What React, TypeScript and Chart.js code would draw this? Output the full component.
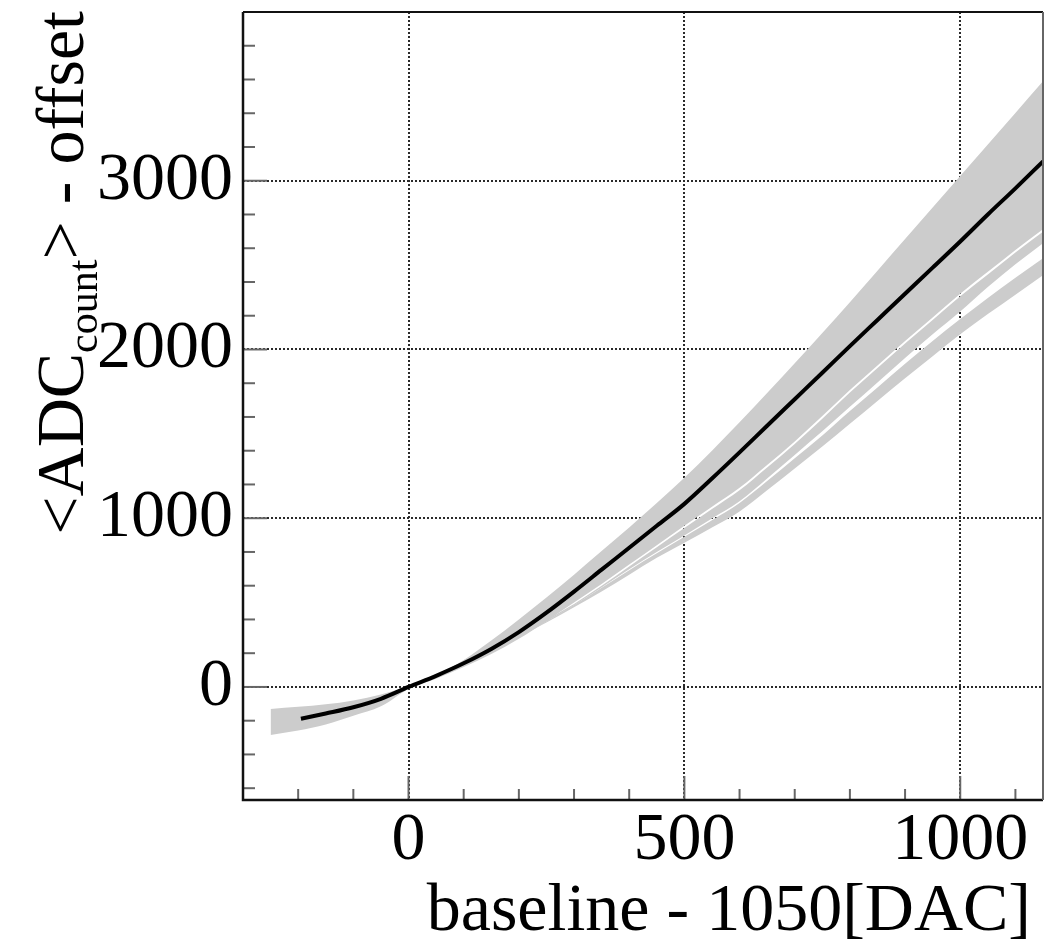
import React, { useEffect, useRef } from "react";
import { Chart, registerables } from "chart.js";

Chart.register(...registerables);

// ---- data ----
const meanX = [-195, -150, -100, -50, 0, 50, 100, 150, 200, 250, 300, 350, 400, 450, 500, 550, 600, 650, 700, 750, 800, 850, 900, 950, 1000, 1050, 1100, 1150];
const meanY = [-188, -157, -120, -70, 0, 66, 140, 225, 325, 440, 565, 695, 825, 955, 1085, 1235, 1390, 1548, 1705, 1862, 2020, 2175, 2330, 2485, 2640, 2800, 2955, 3115];

const bandX = [-250, -200, -150, -100, -50, 0, 50, 100, 150, 200, 250, 300, 350, 400, 450, 500, 550, 600, 650, 700, 750, 800, 850, 900, 950, 1000, 1050, 1100, 1150];
const bandUpper = [-130, -118, -103, -80, -45, 5, 70, 160, 275, 400, 530, 665, 805, 945, 1090, 1240, 1400, 1568, 1742, 1918, 2098, 2280, 2467, 2654, 2841, 3028, 3215, 3402, 3590];
const bandLower = [-285, -258, -222, -170, -115, -12, 48, 118, 195, 285, 390, 500, 610, 725, 840, 955, 1068, 1180, 1315, 1455, 1605, 1760, 1905, 2050, 2190, 2330, 2460, 2590, 2712];

const stripX = [200, 250, 300, 350, 400, 450, 500, 550, 600, 650, 700, 750, 800, 850, 900, 950, 1000, 1050, 1100, 1150];
const stripATop = [300, 398, 492, 600, 714, 828, 942, 1054, 1165, 1300, 1440, 1590, 1745, 1890, 2035, 2175, 2315, 2445, 2575, 2697];
const stripABottom = [298, 388, 484, 590, 698, 800, 898, 998, 1100, 1235, 1375, 1515, 1660, 1805, 1950, 2090, 2225, 2370, 2505, 2630];
const stripBTop = [298, 390, 486, 588, 692, 792, 890, 988, 1090, 1220, 1355, 1490, 1635, 1775, 1915, 2050, 2180, 2305, 2425, 2540];
const stripBBottom = [296, 382, 472, 565, 665, 765, 855, 945, 1040, 1165, 1295, 1425, 1560, 1695, 1830, 1960, 2090, 2210, 2325, 2440];

const xTickValues = [-200, -100, 0, 100, 200, 300, 400, 500, 600, 700, 800, 900, 1000, 1100];
const xMajorTicks = [0, 500, 1000];
const yTickValues = [-600, -400, -200, 0, 200, 400, 600, 800, 1000, 1200, 1400, 1600, 1800, 2000, 2200, 2400, 2600, 2800, 3000, 3200, 3400, 3600, 3800];
const yMajorTicks = [0, 1000, 2000, 3000];

const xTitle = "baseline - 1050[DAC]";
const yTitleStart = "<ADC";
const yTitleSub = "count";
const yTitleEnd = "> - offset";

const X_MIN = -300;
const X_MAX = 1150;
const Y_MIN = -670;
const Y_MAX = 4000;

const GRAY = "#cccccc";
const FONT = '"Liberation Serif", "Times New Roman", serif';
const TICK_FONT_SIZE = 68;
const TITLE_FONT_SIZE = 68;

const pts = (xs: number[], ys: number[]) => xs.map((x, i) => ({ x, y: ys[i] }));

const rootFramePlugin = {
  id: "rootFrame",
  afterDatasetsDraw(chart: any) {
    const { ctx, chartArea } = chart;
    const { left, top, right, bottom } = chartArea;
    const xs = chart.scales.x;
    const ys = chart.scales.y;
    ctx.save();
    // inward tick marks
    ctx.strokeStyle = "#666";
    ctx.lineWidth = 2;
    ctx.setLineDash([]);
    xTickValues.forEach((v) => {
      const px = xs.getPixelForValue(v);
      const len = xMajorTicks.includes(v) ? 24 : 11;
      ctx.beginPath();
      ctx.moveTo(px, bottom);
      ctx.lineTo(px, bottom - len);
      ctx.stroke();
    });
    yTickValues.forEach((v) => {
      const py = ys.getPixelForValue(v);
      const len = yMajorTicks.includes(v) ? 24 : 12;
      ctx.beginPath();
      ctx.moveTo(left, py);
      ctx.lineTo(left + len, py);
      ctx.stroke();
    });
    // frame
    ctx.strokeStyle = "#111";
    ctx.lineWidth = 2.5;
    ctx.beginPath();
    ctx.moveTo(left, top);
    ctx.lineTo(left, bottom);
    ctx.lineTo(right, bottom);
    ctx.stroke();
    ctx.lineWidth = 2;
    ctx.beginPath();
    ctx.moveTo(left, top);
    ctx.lineTo(right, top);
    ctx.stroke();
    ctx.strokeStyle = "#666";
    ctx.beginPath();
    ctx.moveTo(right, top);
    ctx.lineTo(right, bottom);
    ctx.stroke();

    // x title
    ctx.fillStyle = "#000";
    ctx.font = `${TITLE_FONT_SIZE}px ${FONT}`;
    ctx.textAlign = "right";
    ctx.textBaseline = "alphabetic";
    ctx.fillText(xTitle, right - 12, 930);

    // y title (rotated, with subscript)
    const subSize = Math.round(TITLE_FONT_SIZE * 0.62);
    ctx.font = `${TITLE_FONT_SIZE}px ${FONT}`;
    const w1 = ctx.measureText(yTitleStart).width;
    const w3 = ctx.measureText(yTitleEnd).width;
    ctx.font = `${subSize}px ${FONT}`;
    const w2 = ctx.measureText(yTitleSub).width;
    const total = w1 + w2 + w3;
    ctx.translate(83, top - 1);
    ctx.rotate(-Math.PI / 2);
    ctx.textAlign = "left";
    ctx.font = `${TITLE_FONT_SIZE}px ${FONT}`;
    ctx.fillText(yTitleStart, -total, 0);
    ctx.font = `${subSize}px ${FONT}`;
    ctx.fillText(yTitleSub, -total + w1, 14);
    ctx.font = `${TITLE_FONT_SIZE}px ${FONT}`;
    ctx.fillText(yTitleEnd, -total + w1 + w2, 0);
    ctx.restore();
  },
};

export default function App() {
  const canvasRef = useRef<HTMLCanvasElement | null>(null);

  useEffect(() => {
    const canvas = canvasRef.current;
    if (!canvas) return;
    const hidden = "rgba(0,0,0,0)";
    const bandStyle = {
      borderColor: hidden,
      borderWidth: 0,
      backgroundColor: GRAY,
      pointRadius: 0,
      cubicInterpolationMode: "monotone",
      order: 1,
    };
    const chart = new Chart(canvas, {
      type: "line",
      data: {
        datasets: [
          {
            label: "mean",
            data: pts(meanX, meanY),
            borderColor: "#000",
            borderWidth: 4,
            pointRadius: 0,
            fill: false,
            cubicInterpolationMode: "monotone",
            order: 0,
          },
          { ...bandStyle, label: "upper", data: pts(bandX, bandUpper), fill: false },
          { ...bandStyle, label: "lower", data: pts(bandX, bandLower), fill: "-1" },
          { ...bandStyle, label: "aTop", data: pts(stripX, stripATop), fill: false },
          { ...bandStyle, label: "aBottom", data: pts(stripX, stripABottom), fill: "-1" },
          { ...bandStyle, label: "bTop", data: pts(stripX, stripBTop), fill: false },
          { ...bandStyle, label: "bBottom", data: pts(stripX, stripBBottom), fill: "-1" },
        ],
      },
      options: {
        responsive: false,
        maintainAspectRatio: false,
        animation: false,
        devicePixelRatio: 1,
        layout: { padding: { top: 12, right: 1, left: 0, bottom: 0 } },
        plugins: {
          legend: { display: false },
          tooltip: { enabled: false },
          title: { display: false },
        },
        scales: {
          x: {
            type: "linear",
            min: X_MIN,
            max: X_MAX,
            afterBuildTicks: (s: any) => {
              s.ticks = xTickValues.map((v) => ({ value: v }));
            },
            afterFit: (s: any) => {
              s.height = 147;
              s.paddingLeft = 0;
              s.paddingRight = 0;
              s.paddingTop = 0;
              s.paddingBottom = 0;
            },
            ticks: {
              autoSkip: false,
              maxRotation: 0,
              minRotation: 0,
              padding: 0,
              color: "#000",
              font: { family: FONT, size: TICK_FONT_SIZE },
              callback: (v: any) => (xMajorTicks.includes(Number(v)) ? String(v) : ""),
            },
            grid: {
              drawTicks: false,
              lineWidth: 2,
              color: (c: any) => (c.tick && xMajorTicks.includes(c.tick.value) ? "#2a2a2a" : "rgba(0,0,0,0)"),
            },
            border: { display: false, dash: [2, 2] },
          },
          y: {
            type: "linear",
            min: Y_MIN,
            max: Y_MAX,
            afterBuildTicks: (s: any) => {
              s.ticks = yTickValues.map((v) => ({ value: v }));
            },
            afterFit: (s: any) => {
              s.width = 243;
              s.paddingLeft = 0;
              s.paddingRight = 0;
              s.paddingTop = 0;
              s.paddingBottom = 0;
            },
            ticks: {
              autoSkip: false,
              padding: 10,
              color: "#000",
              font: { family: FONT, size: TICK_FONT_SIZE },
              callback: (v: any) => (yMajorTicks.includes(Number(v)) ? String(v) : ""),
            },
            grid: {
              drawTicks: false,
              lineWidth: 2,
              color: (c: any) => (c.tick && yMajorTicks.includes(c.tick.value) ? "#2a2a2a" : "rgba(0,0,0,0)"),
            },
            border: { display: false, dash: [2, 2] },
          },
        },
      },
      plugins: [rootFramePlugin],
    } as any);
    return () => chart.destroy();
  }, []);

  return (
    <div style={{ position: "absolute", left: 0, top: 0, width: 1044, height: 947, background: "#fff" }}>
      <canvas ref={canvasRef} width={1044} height={947} style={{ display: "block" }} />
    </div>
  );
}
